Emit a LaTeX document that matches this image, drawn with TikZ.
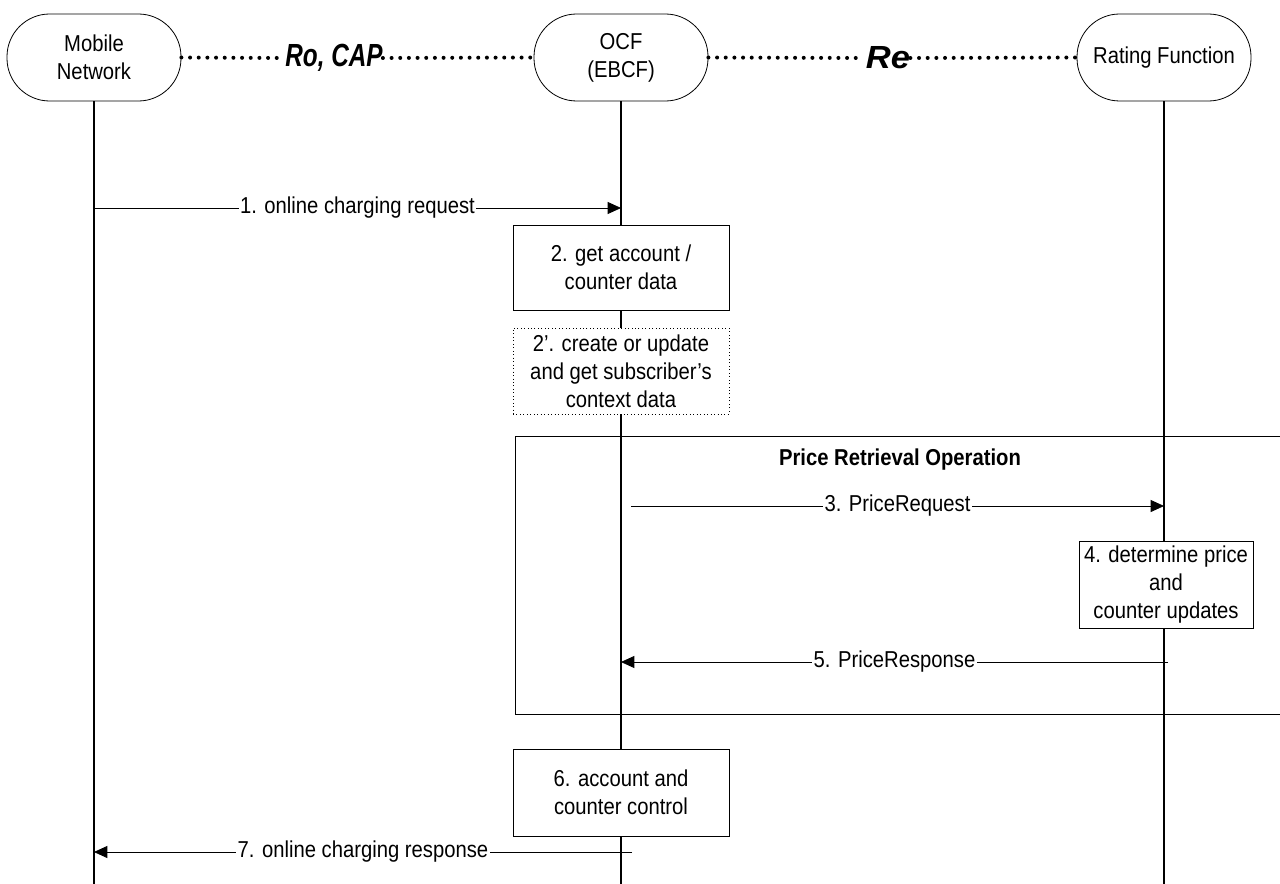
\documentclass[tikz,border=0pt]{standalone}
\usepackage{fontspec}
\setmainfont{Liberation Sans}[FakeStretch=0.88]
\newfontfamily\ifacefont{Liberation Sans}
\usetikzlibrary{arrows.meta}
\begin{document}
\begin{tikzpicture}[x=0.75pt,y=-0.75pt,
  txt/.style={font=\fontsize{17.25}{21}\selectfont, align=center},
  ent/.style={draw, line width=0.6pt, rounded corners=32pt, minimum width=174*0.75pt, minimum height=87*0.75pt, inner sep=0pt, txt},
  stepbox/.style={draw, line width=0.6pt, fill=white, inner sep=0pt, txt},
  life/.style={line width=1.1pt},
  msg/.style={line width=0.6pt, -{Triangle[length=10pt,width=9pt]}},
  lbl/.style={fill=white, inner sep=1pt, txt},
  dotline/.style={line width=3pt, dash pattern=on 0pt off 6.5pt, line cap=round},
  iface/.style={font=\ifacefont\fontsize{24}{26}\bfseries\itshape\selectfont, inner sep=0pt}
]
\useasboundingbox (0,0) rectangle (1280,884);
\clip (0,0) rectangle (1280,884);
% entities
\node[ent] (mn) at (94,57.5) {Mobile\\Network};
\node[ent] (ocf) at (621,57.5) {OCF\\(EBCF)};
\node[ent] (rf) at (1164,57.5) {Rating Function};
% lifeline ends
\coordinate (mnE) at (94,884);
\coordinate (ocfE) at (621,884);
\coordinate (rfE) at (1164,884);
\draw[life] (mn.south) -- (mnE);
\draw[life] (ocf.south) -- (ocfE);
\draw[life] (rf.south) -- (rfE);
% interfaces
\node[iface] (ro) at (334,58) {\scalebox{0.76}[1]{Ro, CAP}};
\node[iface] (re) at (888,58) {\scalebox{1.08}[1]{Re}};
\draw[dotline] (mn.east) -- ([xshift=-3pt]ro.west);
\draw[dotline] (ro.east) -- (ocf.west);
\draw[dotline] (ocf.east) -- ([xshift=-3pt]re.west);
\draw[dotline] (re.east) -- (rf.west);
% price retrieval frame
\node[draw, line width=0.6pt, minimum width=770*0.75pt, minimum height=278*0.75pt, inner sep=0pt, anchor=north west] (prf) at (515,436) {};
\node[font=\fontsize{17.25}{21}\bfseries\selectfont] (prt) at (900,460) {Price Retrieval Operation};
% step boxes
\node[stepbox, minimum width=216*0.75pt, minimum height=85*0.75pt] (s2) at (621,267.5) {2. get account /\\counter data};
\node[stepbox, dotted, minimum width=216*0.75pt, minimum height=86*0.75pt] (s2b) at (621,371) {2'. create or update\\and get subscriber's\\context data};
\node[stepbox, minimum width=174*0.75pt, minimum height=87*0.75pt] (s4) at (1166,584.5) {4. determine price\\and\\counter updates};
\node[stepbox, minimum width=216*0.75pt, minimum height=87*0.75pt] (s6) at (621,792.5) {6. account and\\counter control};
% messages
\coordinate (m1a) at (94,208);
\coordinate (m1b) at (621,208);
\draw[msg] (m1a) -- node[lbl] {1. online charging request} (m1b);
\coordinate (m3a) at (631,506);
\coordinate (m3b) at (1164,506);
\draw[msg] (m3a) -- node[lbl] {3. PriceRequest} (m3b);
\coordinate (m5a) at (1168,662);
\coordinate (m5b) at (621,662);
\draw[msg] (m5a) -- node[lbl] {5. PriceResponse} (m5b);
\coordinate (m7a) at (632,852);
\coordinate (m7b) at (94,852);
\draw[msg] (m7a) -- node[lbl] {7. online charging response} (m7b);
\end{tikzpicture}
\end{document}
